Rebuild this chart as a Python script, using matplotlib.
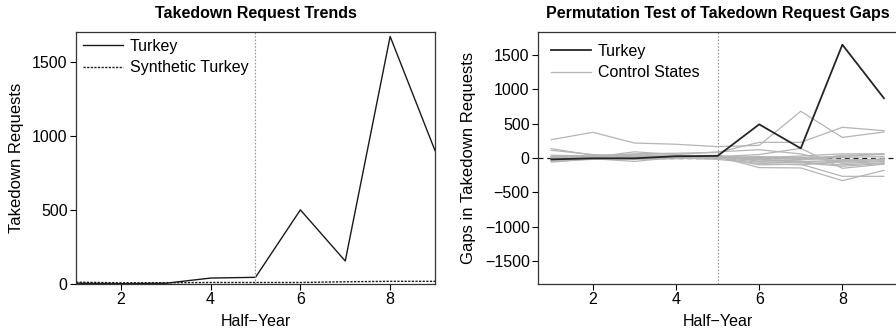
import matplotlib
matplotlib.use("Agg")
import matplotlib.pyplot as plt
import numpy as np

plt.rcParams['font.family'] = ['Liberation Sans', 'DejaVu Sans']

half_year = [1, 2, 3, 4, 5, 6, 7, 8, 9]
turkey = [5, 2, 5, 40, 45, 500, 155, 1670, 900]
synthetic_turkey = [12, 8, 8, 10, 10, 10, 15, 18, 18]

turkey_gap = [-20, -5, -5, 25, 30, 490, 140, 1650, 870]
control_gaps = [
    [267, 374, 218, 200, 165, 184, 680, 300, 378],
    [20, 30, 60, 70, 80, 228, 228, 447, 398],
    [136, 40, 20, 30, 20, -140, -145, -330, -180],
    [112, 50, 30, 20, 10, -100, -90, -267, -267],
    [-40, 10, 90, 50, 90, 120, 60, -80, -50],
    [-60, -10, -50, 10, 20, 50, 140, -150, -90],
    [30, 20, 0, 10, 0, -30, -60, -100, -70],
    [10, 0, 20, 30, 40, -50, -30, 40, 50],
    [-20, 10, 30, 20, 10, 20, 10, 20, 60],
    [0, 5, 10, 10, 5, -20, -50, -60, -40],
    [-10, -5, -10, 0, -5, 10, 0, -20, -30],
    [5, 10, 5, 15, 10, -10, -20, -40, -20],
    [-30, -10, -20, -10, 0, -60, -70, -120, -80],
    [15, 20, 10, 5, 15, 0, -10, 10, 20],
    [40, 30, 50, 40, 30, 0, 30, 60, 60],
    [-50, -20, 10, 0, -20, -80, -100, -50, -10],
]
treatment_time = 5

fig = plt.figure(figsize=(8.96, 3.36), dpi=100)

tick_kw = dict(direction='out', length=4, width=0.8, labelsize=11.5, pad=2)
leg_kw = dict(loc='upper left', frameon=False, fontsize=11.5, handlelength=2.5,
              handletextpad=0.45, borderaxespad=0, borderpad=0, labelspacing=0.38)

# Left panel
ax1 = fig.add_axes([0.0848, 0.1548, 0.4007, 0.75])
ax1.plot(half_year, turkey, color='#1a1a1a', lw=1.0, label='Turkey')
ax1.plot(half_year, synthetic_turkey, color='#1a1a1a', lw=1.0, ls=(0, (1.6, 1)), label='Synthetic Turkey')
ax1.axvline(treatment_time, color='#999999', lw=0.8, ls=(0, (1.5, 1.5)))
ax1.set_xlim(1, 9)
ax1.set_ylim(0, 1700)
ax1.set_xticks([2, 4, 6, 8])
ax1.set_yticks([0, 500, 1000, 1500])
ax1.tick_params(**tick_kw)
ax1.set_xlabel('Half\u2212Year', fontsize=11.5, labelpad=5)
ax1.set_ylabel('Takedown Requests', fontsize=12, labelpad=6)
ax1.set_title('Takedown Request Trends', fontsize=11.5, fontweight='bold', pad=10)
ax1.legend(bbox_to_anchor=(0.0195, 0.972), **leg_kw)
for s in ax1.spines.values():
    s.set_color('#333333')
    s.set_linewidth(0.9)

# Right panel
ax2 = fig.add_axes([0.6004, 0.1548, 0.4010, 0.75])
for i, g in enumerate(control_gaps):
    ax2.plot(half_year, g, color='#b5b5b5', lw=0.9,
             label='Control States' if i == 0 else None, zorder=2)
ax2.plot(half_year, turkey_gap, color='#262626', lw=1.3, label='Turkey', zorder=3)
ax2.axhline(0, color='#1a1a1a', lw=0.9, ls=(0, (4, 3)), zorder=1)
ax2.axvline(treatment_time, color='#999999', lw=0.8, ls=(0, (1.5, 1.5)), zorder=1)
ax2.set_xlim(0.68, 9.32)
ax2.set_ylim(-1835, 1835)
ax2.set_xticks([2, 4, 6, 8])
ax2.set_yticks([-1500, -1000, -500, 0, 500, 1000, 1500])
ax2.set_yticklabels(['\u22121500', '\u22121000', '\u2212500', '0', '500', '1000', '1500'])
ax2.tick_params(**tick_kw)
ax2.set_xlabel('Half\u2212Year', fontsize=11.5, labelpad=5)
ax2.set_ylabel('Gaps in Takedown Requests', fontsize=12, labelpad=6)
ax2.set_title('Permutation Test of Takedown Request Gaps', fontsize=11.5, fontweight='bold', pad=10)
h, l = ax2.get_legend_handles_labels()
order = [l.index('Turkey'), l.index('Control States')]
ax2.legend([h[i] for i in order], [l[i] for i in order],
           bbox_to_anchor=(0.0363, 0.952), **leg_kw)
for s in ax2.spines.values():
    s.set_color('#333333')
    s.set_linewidth(0.9)

fig.savefig('out.png', dpi=100)
